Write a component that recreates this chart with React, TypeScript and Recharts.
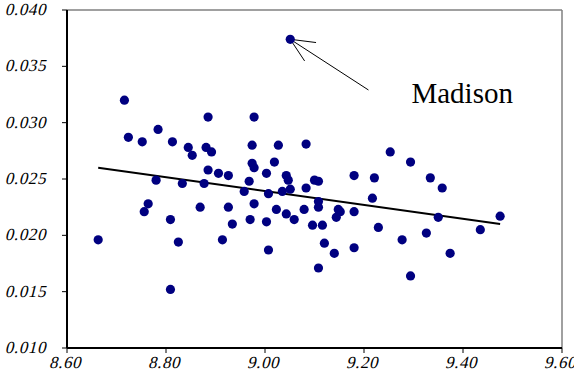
import { ScatterChart, Scatter, XAxis, YAxis, ReferenceLine } from "recharts";

// values
const X_VALUES = [
  8.663, 8.716, 8.724, 8.752, 8.784, 8.813, 8.845, 8.853, 8.78, 8.833,
  8.764, 8.756, 8.809, 8.825, 8.809, 8.869, 8.877, 8.885, 8.881, 8.892,
  8.885, 8.906, 8.926, 8.914, 8.926, 8.934,
  8.978, 8.974, 9.027, 9.083, 8.974, 8.978, 9.019, 9.003, 9.043, 9.047,
  9.1, 9.108, 8.968, 8.958, 9.007, 9.035, 9.051, 9.083, 9.108, 9.108,
  8.978, 9.023, 9.043, 9.079, 8.97, 9.003, 9.059, 9.096, 9.116, 9.007,
  9.12, 9.14, 9.148, 9.152, 9.144, 9.18, 9.108, 9.217, 9.18, 9.221,
  9.051,
  9.253, 9.294, 9.334, 9.358, 9.35, 9.475, 9.229, 9.435, 9.326, 9.277,
  9.18, 9.374, 9.294,
];
const Y_VALUES = [
  0.0196, 0.032, 0.0287, 0.0283, 0.0294, 0.0283, 0.0278, 0.0271, 0.0249, 0.0246,
  0.0228, 0.0221, 0.0214, 0.0194, 0.0152, 0.0225, 0.0246, 0.0305, 0.0278, 0.0274,
  0.0258, 0.0255, 0.0253, 0.0196, 0.0225, 0.021,
  0.0305, 0.028, 0.028, 0.0281, 0.0264, 0.026, 0.0265, 0.0255, 0.0253, 0.0249,
  0.0249, 0.0248, 0.0248, 0.0239, 0.0237, 0.0239, 0.0241, 0.0242, 0.023, 0.0225,
  0.0228, 0.0223, 0.0219, 0.0223, 0.0214, 0.0212, 0.0214, 0.0209, 0.0209, 0.0187,
  0.0193, 0.0184, 0.0223, 0.0221, 0.0216, 0.0221, 0.0171, 0.0233, 0.0253, 0.0251,
  0.0374,
  0.0274, 0.0265, 0.0251, 0.0242, 0.0216, 0.0217, 0.0207, 0.0205, 0.0202, 0.0196,
  0.0189, 0.0184, 0.0164,
];

const X_TICKS = [8.6, 8.8, 9.0, 9.2, 9.4, 9.6];
const Y_TICKS = [0.01, 0.015, 0.02, 0.025, 0.03, 0.035, 0.04];

const TREND_X = [8.663, 9.475];
const TREND_Y = [0.026, 0.021];

const LABEL_TEXT = "Madison";
const LABEL_POINT = [9.051, 0.0374];
const ARROW_TAIL = [9.209, 0.0329];

const points = X_VALUES.map((x, i) => ({ x, y: Y_VALUES[i] }));

const tickStyle = {
  fontFamily: "Liberation Serif",
  fontSize: "17px",
  letterSpacing: "0.6px",
};

// italic faked with a skew so it does not depend on an italic face being installed
const renderXTick = (props: any) => {
  const { x, y, payload } = props;
  return (
    <text
      transform={`translate(${x - 2},${y + 13}) skewX(-14)`}
      textAnchor="middle"
      fill="#000"
      style={tickStyle}
    >
      {Number(payload.value).toFixed(2)}
    </text>
  );
};

const renderYTick = (props: any) => {
  const { x, y, payload } = props;
  return (
    <text
      transform={`translate(${x},${y + 5}) skewX(-14)`}
      textAnchor="end"
      fill="#000"
      style={tickStyle}
    >
      {Number(payload.value).toFixed(3)}
    </text>
  );
};

function Dot(props: any) {
  return <circle cx={props.cx} cy={props.cy} r={4.6} fill="#000080" />;
}

function Arrow(props: any) {
  const { x1, y1, x2, y2 } = props;
  const ang = Math.atan2(y1 - y2, x1 - x2);
  const len = 26;
  const a = ang - 0.45;
  const b = ang + 0.41;
  return (
    <g>
      <line x1={x1} y1={y1} x2={x2} y2={y2} stroke="#000" strokeWidth={1} />
      <line x1={x2} y1={y2} x2={x2 + len * Math.cos(a)} y2={y2 + len * Math.sin(a)} stroke="#000" strokeWidth={1} />
      <line x1={x2} y1={y2} x2={x2 + len * Math.cos(b)} y2={y2 + len * Math.sin(b)} stroke="#000" strokeWidth={1} />
      <text x={x1 + 43} y={y1 + 13} fill="#000" style={{ fontFamily: "Liberation Serif", fontSize: "29px" }}>
        {LABEL_TEXT}
      </text>
    </g>
  );
}

export default function App() {
  return (
    <div style={{ position: "absolute", left: 0, top: 0, background: "#fff" }}>
      <ScatterChart width={574} height={377} margin={{ top: 10, right: 12, bottom: 0, left: 0 }}>
        <ReferenceLine y={0.04} stroke="#808080" strokeWidth={1.5} />
        <ReferenceLine x={9.6} stroke="#808080" strokeWidth={1.5} />
        <XAxis
          dataKey="x"
          type="number"
          domain={[8.6, 9.6]}
          ticks={X_TICKS}
          interval={0}
          height={29}
          tickSize={5}
          axisLine={{ stroke: "#000", strokeWidth: 2 }}
          tickLine={{ stroke: "#000" }}
          tick={renderXTick}
          allowDataOverflow
        />
        <YAxis
          dataKey="y"
          type="number"
          domain={[0.01, 0.04]}
          ticks={Y_TICKS}
          interval={0}
          width={67}
          tickSize={5}
          tickMargin={16}
          axisLine={{ stroke: "#000", strokeWidth: 2 }}
          tickLine={{ stroke: "#000" }}
          tick={renderYTick}
          allowDataOverflow
        />
        <Scatter data={points} shape={<Dot />} isAnimationActive={false} />
        <ReferenceLine
          segment={[
            { x: TREND_X[0], y: TREND_Y[0] },
            { x: TREND_X[1], y: TREND_Y[1] },
          ]}
          stroke="#000"
          strokeWidth={2}
        />
        <ReferenceLine
          segment={[
            { x: ARROW_TAIL[0], y: ARROW_TAIL[1] },
            { x: LABEL_POINT[0], y: LABEL_POINT[1] },
          ]}
          shape={<Arrow />}
        />
      </ScatterChart>
    </div>
  );
}
